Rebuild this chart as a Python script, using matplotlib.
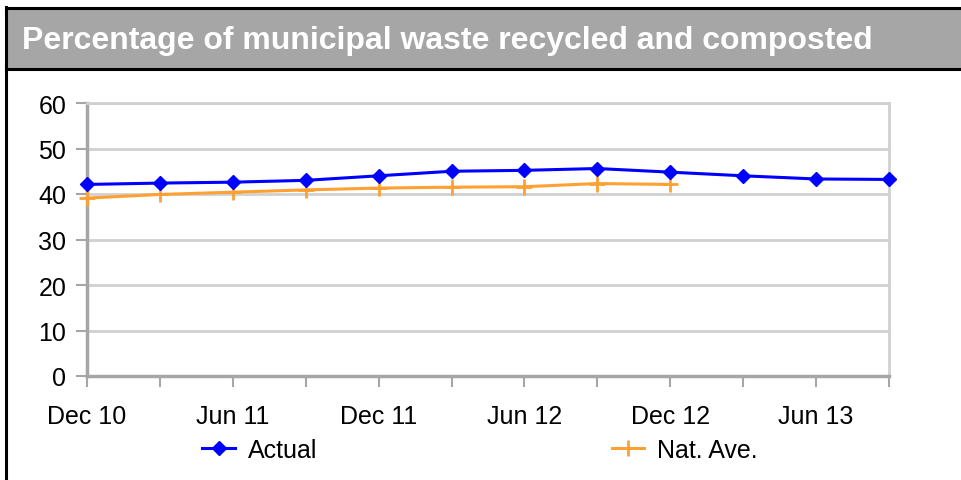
import matplotlib.pyplot as plt
from matplotlib.patches import Rectangle
from matplotlib.lines import Line2D

plt.rcParams['font.family'] = ['Liberation Sans', 'DejaVu Sans']

quarters = ["Dec 10", "Mar 11", "Jun 11", "Sep 11", "Dec 11", "Mar 12",
            "Jun 12", "Sep 12", "Dec 12", "Mar 13", "Jun 13", "Sep 13"]
actual = [42.1, 42.4, 42.6, 43.0, 44.0, 45.0, 45.2, 45.6, 44.8, 44.0, 43.3, 43.2]
nat_ave = [39.1, 39.9, 40.4, 40.9, 41.3, 41.5, 41.6, 42.3, 42.1]
title = "Percentage of municipal waste recycled and composted"

W, H = 962, 481
fig = plt.figure(figsize=(W / 100, H / 100), dpi=100)

# title bar and frame
fig.patches.append(Rectangle((6 / W, 1 - 71 / H), 1, 62 / H, transform=fig.transFigure,
                             facecolor="#a6a6a6", edgecolor="none"))
for y in (9, 70):
    fig.add_artist(Line2D([6 / W, 1], [1 - y / H, 1 - y / H], color="black", lw=2.2))
fig.add_artist(Line2D([6 / W, 6 / W], [0, 1 - 8 / H], color="black", lw=2.2))
fig.text(22 / W, 1 - 41 / H, title, color="white", fontsize=23, fontweight="bold",
         va="center", ha="left")

ax = fig.add_axes([87 / W, 1 - 377 / H, (889 - 87) / W, (377 - 104) / H])
x = list(range(len(quarters)))
ax.plot(x, actual, color="#0000ff", lw=2.2, marker="D", ms=7.5, label="Actual",
        clip_on=False, zorder=4)
ax.plot(x[:len(nat_ave)], nat_ave, color="#ffa033", lw=2.2, marker="+", ms=11,
        mew=2, label="Nat. Ave.", clip_on=False, zorder=3)

ax.set_xlim(0, len(quarters) - 1)
ax.set_ylim(0, 60)
ax.set_yticks(range(0, 61, 10))
ax.set_xticks(x)
ax.set_xticklabels([q if i % 2 == 0 else "" for i, q in enumerate(quarters)])
ax.grid(axis="y", color="#d0d0d0", lw=2)
ax.set_axisbelow(True)
for side in ("top", "right"):
    ax.spines[side].set_color("#d0d0d0")
    ax.spines[side].set_linewidth(2)
for side in ("left", "bottom"):
    ax.spines[side].set_color("#a6a6a6")
    ax.spines[side].set_linewidth(2.5)
ax.tick_params(axis="both", colors="#a6a6a6", width=1.5, length=8, labelsize=18,
               labelcolor="black")
ax.tick_params(axis="x", pad=12)
ax.tick_params(axis="y", pad=7)

fig.legend(loc="center", bbox_to_anchor=(480 / W, 1 - 451 / H), ncol=2, frameon=False,
           fontsize=18, columnspacing=11.8, handlelength=1.3, handletextpad=0.5)

fig.savefig("out.png", dpi=100)
